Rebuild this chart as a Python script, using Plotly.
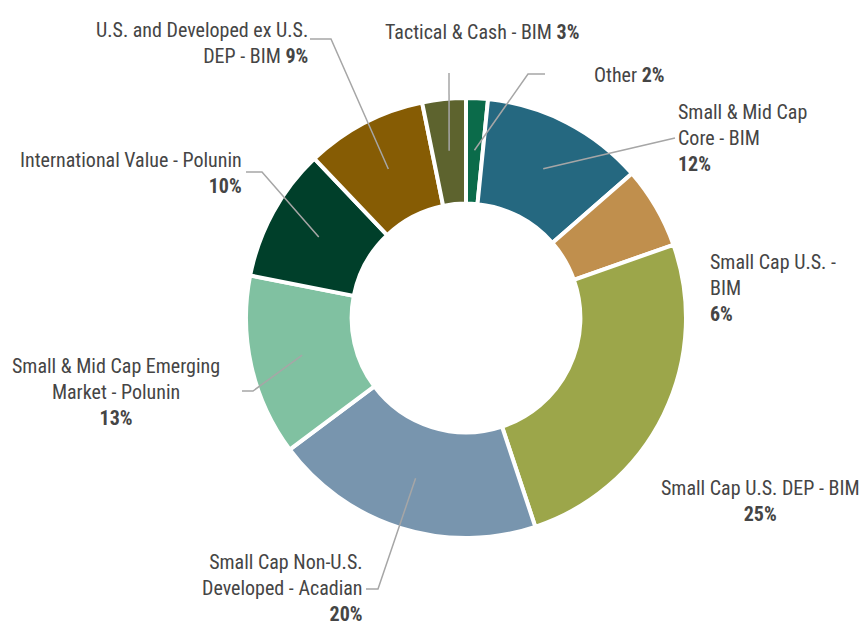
import math
import plotly.graph_objects as go

labels = ["Other", "Small & Mid Cap Core - BIM", "Small Cap U.S. - BIM",
          "Small Cap U.S. DEP - BIM", "Small Cap Non-U.S. Developed - Acadian",
          "Small & Mid Cap Emerging Market - Polunin", "International Value - Polunin",
          "U.S. and Developed ex U.S. DEP - BIM", "Tactical & Cash - BIM"]
values = [1.6, 12.0, 6.0, 25.3, 19.9, 13.3, 9.8, 8.9, 3.2]
pct_labels = ["2%", "12%", "6%", "25%", "20%", "13%", "10%", "9%", "3%"]
colors = ["#0b6b4a", "#256880", "#c08f4d", "#9ca64a", "#7895ae",
          "#80c1a1", "#003f2a", "#865c04", "#5d632e"]

W, H = 860, 626
CX, CY, R = 466, 318, 220

texts = [
    ("Other <b>{p}</b>", 592, 75, "left", "left"),
    ("Small & Mid Cap<br>Core - BIM<br><b>{p}</b>", 676, 138, "left", "left"),
    ("Small Cap U.S. -<br>BIM<br><b>{p}</b>", 708, 288, "left", "left"),
    ("Small Cap U.S. DEP - BIM<br><b>{p}</b>", 760, 501, "center", "center"),
    ("Small Cap Non-U.S.<br>Developed - Acadian<br><b>{p}</b>", 365, 588, "right", "right"),
    ("Small & Mid Cap Emerging<br>Market - Polunin<br><b>{p}</b>", 116, 392, "center", "center"),
    ("International Value - Polunin<br><b>{p}</b>", 244, 173, "right", "right"),
    ("U.S. and Developed ex U.S.<br>DEP - BIM <b>{p}</b>", 310, 43, "right", "right"),
    ("Tactical & Cash - BIM <b>{p}</b>", 482, 32, "center", "center"),
]
elbows = [
    [(528, 74), (545, 74)],
    [(675, 138)],
    None,
    None,
    [(378, 589), (366, 589)],
    [(253, 391), (242, 391)],
    [(262, 172), (246, 172)],
    [(331, 39), (310, 39)],
    [(449, 73)],
]

fig = go.Figure(go.Pie(
    labels=labels, values=values, sort=False, direction="clockwise", rotation=0,
    hole=0.52, marker=dict(colors=colors, line=dict(color="white", width=4)),
    textinfo="none", hoverinfo="label+percent", showlegend=False,
    domain=dict(x=[(CX - R) / W, (CX + R) / W], y=[(H - CY - R) / H, (H - CY + R) / H]),
))

def px2p(x, y):
    return x / W, 1 - y / H

total = sum(values)
cum = 0
shapes = []
annotations = []
for i, v in enumerate(values):
    mid = (cum + v / 2) / total
    cum += v
    ang = 2 * math.pi * mid
    rl = 168
    sx, sy = CX + rl * math.sin(ang), CY - rl * math.cos(ang)
    if elbows[i]:
        pts = [(sx, sy)] + elbows[i]
        path = "M " + " L ".join(f"{px2p(x, y)[0]:.5f},{px2p(x, y)[1]:.5f}" for x, y in pts)
        shapes.append(dict(type="path", xref="paper", yref="paper", path=path,
                           line=dict(color="#a6a6a6", width=1.5)))
    t, tx, ty, xa, al = texts[i]
    ax, ay = px2p(tx, ty)
    annotations.append(dict(text=t.format(p=pct_labels[i]), x=ax, y=ay, xref="paper", yref="paper",
                            xanchor=xa, yanchor="middle", align=al, showarrow=False,
                            font=dict(size=20, color="#454545")))

fig.update_layout(
    width=W, height=H, margin=dict(l=0, r=0, t=0, b=0),
    paper_bgcolor="white", plot_bgcolor="white",
    font=dict(family="Liberation Sans Narrow, Roboto Condensed, Arial Narrow, sans-serif", size=20, color="#454545"),
    shapes=shapes, annotations=annotations,
)
fig.write_html("out.html", config={"displayModeBar": False},
               post_script="document.body.style.margin='0';document.body.style.overflow='hidden';")
